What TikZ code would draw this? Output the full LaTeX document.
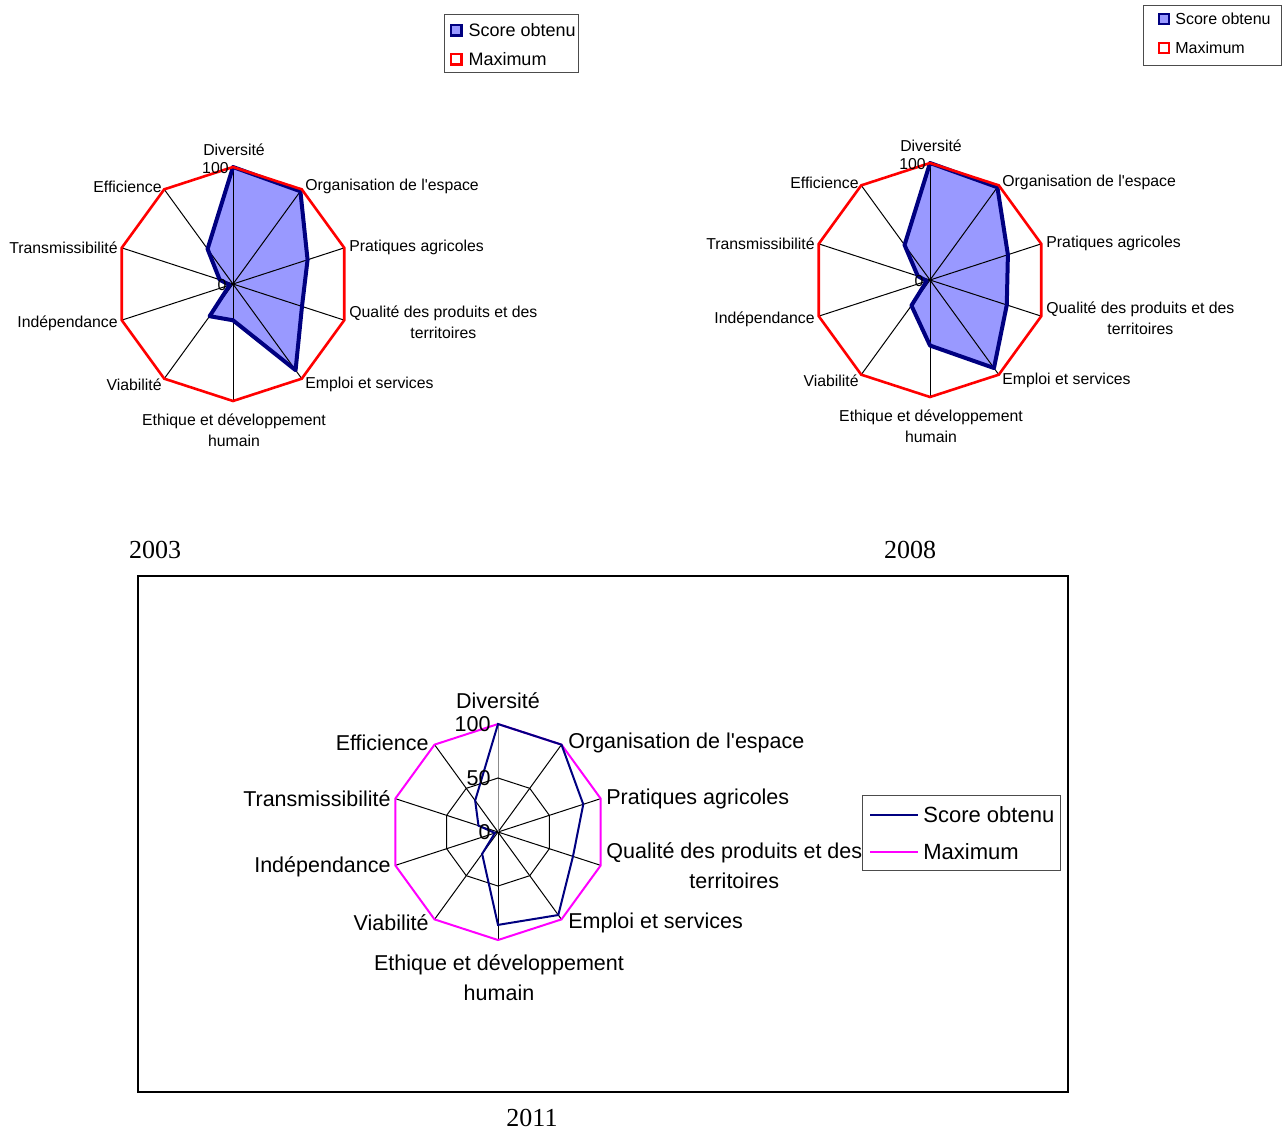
\documentclass[tikz,border=0pt]{standalone}
\usepackage{fontspec}
\setmainfont{Liberation Sans}
\newfontfamily\yearfont{Liberation Serif}
\usetikzlibrary{positioning}
\definecolor{scorefill}{HTML}{9999FF}
\definecolor{scoreline}{HTML}{000080}
\definecolor{maxline}{HTML}{FF0000}
\definecolor{maxpink}{HTML}{FF00FF}
\newcommand{\chartfont}{\fontsize{7.9}{10.5}\selectfont}
\newcommand{\bigchartfont}{\fontsize{10.75}{15}\selectfont}
\tikzset{
  % chart lines
  spoke/.style = {
    draw = black,
    line width = 0.5pt
  },
  score area/.style = {
    fill = scorefill
  },
  score edge/.style = {
    draw = scoreline,
    line width = 2pt,
    line join = round
  },
  max edge/.style = {
    draw = maxline,
    line width = 1.3pt
  },
  % 2011 chart lines
  score thin/.style = {
    draw = scoreline,
    line width = 1pt
  },
  max thin/.style = {
    draw = maxpink,
    line width = 1pt
  },
  chart frame/.style = {
    draw = black,
    line width = 1pt
  },
  legend frame/.style = {
    draw = black!70,
    line width = 0.5pt
  }
}
\tikzset{
  % texts
  small label/.style = {
    inner sep = 0,
    align = center,
    font = \chartfont
  },
  big label/.style = {
    inner sep = 0,
    align = center,
    font = \bigchartfont
  },
  legend text/.style = {
    inner sep = 0,
    font = \fontsize{#1}{#1}\selectfont
  },
  year label/.style = {
    inner sep = 0,
    font = \yearfont\fontsize{13}{13}\selectfont
  },
  % legend keys
  score key/.style = {
    draw = scoreline,
    fill = scorefill,
    line width = #1,
    minimum size = 5.3pt,
    inner sep = 0
  },
  max key/.style = {
    draw = maxline,
    fill = white,
    line width = 1.2pt,
    minimum size = 5.3pt,
    inner sep = 0
  }
}

\begin{document}
\begin{tikzpicture}[x = 0.5pt, y = -0.5pt]
  \useasboundingbox (0,0) rectangle (1284,1131);

  % 2003 and 2008
  \foreach \ch/\cx/\cy/\vals in {a/233/284/{100,98,67,62,91,31,34,3,12,37},
                                 b/930/280/{100,98,70,69,93,56,27,3,11,37}} {
    \coordinate (\ch-c) at (\cx,\cy);
    \foreach \v [count=\k from 0] in \vals {
      \coordinate (\ch-m-\k) at ([shift={(-90+36*\k:117)}]\ch-c);
      \coordinate (\ch-s-\k) at ([shift={(-90+36*\k:1.17*\v)}]\ch-c);
    }
    \fill[score area] (\ch-s-0) \foreach \k in {1,...,9} {-- (\ch-s-\k)} -- cycle;
    \foreach \k in {0,...,9} \draw[spoke] (\ch-c) -- (\ch-m-\k);
    \draw[score edge] (\ch-s-0) \foreach \k in {1,...,9} {-- (\ch-s-\k)} -- cycle;
    \draw[max edge] (\ch-m-0) \foreach \k in {1,...,9} {-- (\ch-m-\k)} -- cycle;

    \begin{scope}[shift={(\ch-c)}]
      \node[small label] (\ch-div) at (1,-134) {Diversité};
      \node[small label, anchor=east] (\ch-top) at (-4,-116) {100};
      \node[small label] (\ch-zero) at (-11,1) {0};
      \node[small label, anchor=east] (\ch-eff) at (-71,-97.5) {Efficience};
      \node[small label, anchor=west] (\ch-org) at (72,-97.5) {Organisation de l\textquotesingle espace};
      \node[small label, anchor=west] (\ch-pra) at (116,-36.5) {Pratiques agricoles};
      \node[small label, anchor=west] (\ch-qua) at (116,38.5) {Qualité des produits et des\\territoires};
      \node[small label, anchor=west] (\ch-emp) at (72,100.5) {Emploi et services};
      \node[small label] (\ch-eth) at (1,146) {Ethique et développement\\humain};
      \node[small label, anchor=east] (\ch-via) at (-71,100.5) {Viabilité};
      \node[small label, anchor=east] (\ch-ind) at (-115,39.5) {Indépendance};
      \node[small label, anchor=east] (\ch-tra) at (-115,-36.5) {Transmissibilité};
    \end{scope}
  }

  % legends of 2003 and 2008
  \draw[legend frame] (444,14) rectangle (578,72);
  \node[score key=1.2pt] (a-key-s) at (456,30) {};
  \node[max key] (a-key-m) at (456,59) {};
  \node[legend text=9, right=2.8pt of a-key-s] (a-leg-s) {Score obtenu};
  \node[legend text=9, right=2.8pt of a-key-m] (a-leg-m) {Maximum};

  \draw[legend frame] (1143,5) rectangle (1281,65);
  \node[score key=1pt, minimum size=4.6pt] (b-key-s) at (1164,19) {};
  \node[max key, line width=1pt, minimum size=4.6pt] (b-key-m) at (1164,48) {};
  \node[legend text=8, right=2.7pt of b-key-s] (b-leg-s) {Score obtenu};
  \node[legend text=8, right=2.7pt of b-key-m] (b-leg-m) {Maximum};

  \node[year label] (y-a) at (155,550) {2003};
  \node[year label] (y-b) at (910,550) {2008};

  % 2011
  \draw[chart frame] (138,576) rectangle (1068,1092);
  \coordinate (c-c) at (498,832);
  \foreach \v [count=\k from 0] in {100,100,83,73,95,86,25,3,19,36} {
    \coordinate (c-m-\k) at ([shift={(-90+36*\k:108)}]c-c);
    \coordinate (c-h-\k) at ([shift={(-90+36*\k:54)}]c-c);
    \coordinate (c-s-\k) at ([shift={(-90+36*\k:1.08*\v)}]c-c);
  }
  \foreach \k in {1,...,9} \draw[spoke] (c-c) -- (c-m-\k);
  \draw[spoke, draw=black!45] (c-c) -- (c-m-0);
  \draw[spoke] (c-h-0) \foreach \k in {1,...,9} {-- (c-h-\k)} -- cycle;
  \draw[max thin] (c-m-0) \foreach \k in {1,...,9} {-- (c-m-\k)} -- cycle;
  \draw[score thin] (c-s-0) \foreach \k in {1,...,9} {-- (c-s-\k)} -- cycle;

  \begin{scope}[shift={(c-c)}]
    \node[big label] (c-div) at (0,-131) {Diversité};
    \node[big label, anchor=east] (c-top) at (-7,-107.5) {100};
    \node[big label, anchor=east] (c-half) at (-7,-53.5) {50};
    \node[big label, anchor=east] (c-zero) at (-7,0.5) {0};
    \node[big label, anchor=east] (c-eff) at (-69,-89) {Efficience};
    \node[big label, anchor=west] (c-org) at (70,-89) {Organisation de l\textquotesingle espace};
    \node[big label, anchor=west] (c-pra) at (108,-33) {Pratiques agricoles};
    \node[big label, anchor=west] (c-qua) at (108,34) {Qualité des produits et des\\territoires};
    \node[big label, anchor=west] (c-emp) at (70,91) {Emploi et services};
    \node[big label] (c-eth) at (1,146) {Ethique et développement\\humain};
    \node[big label, anchor=east] (c-via) at (-69,91) {Viabilité};
    \node[big label, anchor=east] (c-ind) at (-107,35) {Indépendance};
    \node[big label, anchor=east] (c-tra) at (-107,-33) {Transmissibilité};
  \end{scope}

  % legend of 2011
  \draw[legend frame] (862,795) rectangle (1060,870);
  \coordinate (c-key-s) at (870,815);
  \coordinate (c-key-m) at (870,852);
  \draw[score thin] (c-key-s) -- ++(48,0);
  \draw[max thin] (c-key-m) -- ++(48,0);
  \node[legend text=11, anchor=west] (c-leg-s) at (923,815) {Score obtenu};
  \node[legend text=11, anchor=west] (c-leg-m) at (923,852) {Maximum};

  \node[year label] (y-c) at (532,1118) {2011};
\end{tikzpicture}
\end{document}
